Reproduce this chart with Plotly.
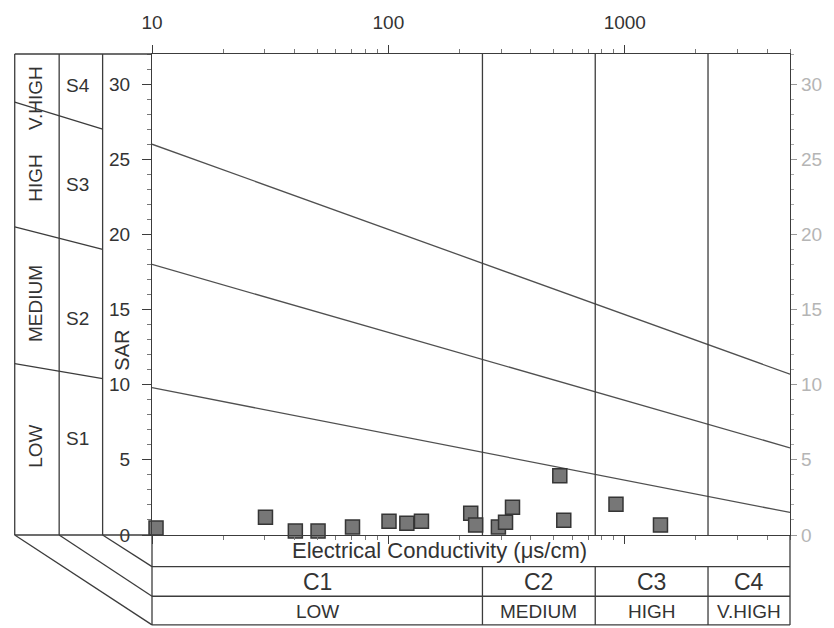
import numpy as np
import plotly.graph_objects as go

# ---------------- data ----------------
ec = [10.4, 30.2, 40.4, 50.4, 70.5, 100.6, 119.7, 138, 223, 234, 292, 313, 335, 531, 552, 918, 1416]
sar = [0.46, 1.18, 0.26, 0.26, 0.53, 0.92, 0.79, 0.92, 1.44, 0.66, 0.53, 0.85, 1.84, 3.94, 0.98, 2.04, 0.66]

ec_limits = [10, 5000]
sar_limits = [0, 32]
line_sar_low_ec = [9.8, 18.0, 26.0]     # S-class boundaries at EC = 10
line_sar_high_ec = [1.5, 5.8, 10.7]     # S-class boundaries at EC = 5000
class_breaks = [250, 750, 2250]
c_edges = [10, 250, 750, 2250, 5000]
c_labels = ["C1", "C2", "C3", "C4"]
c_names = ["LOW", "MEDIUM", "HIGH", "V.HIGH"]
s_labels = ["S1", "S2", "S3", "S4"]
s_names = ["LOW", "MEDIUM", "HIGH", "V.HIGH"]
panel_inner_sar = [10.4, 19.0, 27.0]
panel_outer_sar = [11.4, 20.5, 28.8]
top_ticks = [10, 100, 1000]
top_ticktext = ["10", "100", "1000"]
sar_ticks = [0, 5, 10, 15, 20, 25, 30]

# label positions (SAR units)
s_label_pos = [6.4, 14.4, 23.3, 29.9]
s_name_pos = [5.9, 15.4, 23.8, 29.1]

# ---------------- geometry helpers ----------------
W, H = 834, 628
L, R, T, B = 152, 36, 48, 93
PW, PH = W - L - R, H - T - B


def px(xp):
    return (xp - L) / PW


def py(yp):
    return (H - B - yp) / PH


LINE = "#3c3c3c"
TXT = "#333333"
FONT = "Arial"

fig = go.Figure()

for a, b in zip(line_sar_low_ec, line_sar_high_ec):
    fig.add_trace(go.Scatter(x=ec_limits, y=[a, b], mode="lines",
                             line=dict(color="#505050", width=1.3),
                             hoverinfo="skip", showlegend=False))

for v in class_breaks:
    fig.add_trace(go.Scatter(x=[v, v], y=sar_limits, mode="lines",
                             line=dict(color=LINE, width=1.3),
                             hoverinfo="skip", showlegend=False))

fig.add_trace(go.Scatter(x=ec, y=sar, mode="markers", cliponaxis=False,
                         marker=dict(symbol="square", size=14, color="#777777",
                                     line=dict(color="#353535", width=1.5)),
                         showlegend=False))

# dummy for right axis
fig.add_trace(go.Scatter(x=[ec_limits[0]], y=[sar_limits[0]], yaxis="y2", mode="markers",
                         marker=dict(opacity=0), hoverinfo="skip", showlegend=False))

shapes = []


def seg(x0, y0, x1, y1, xref="paper", yref="paper", color=LINE, w=1.3):
    shapes.append(dict(type="line", x0=x0, y0=y0, x1=x1, y1=y1, xref=xref, yref=yref,
                       line=dict(color=color, width=w), layer="above"))


# left panel
for xp in (13, 58, 102):
    seg(px(xp), 0, px(xp), 1)
seg(px(13), 1, 0, 1)
seg(px(13), 0, 0, 0)
for o, i in zip(panel_outer_sar, panel_inner_sar):
    seg(px(13), o, px(102), i, yref="y")
# perspective to table
seg(px(13), 0, 0, py(626))
seg(px(58), 0, 0, py(597))
seg(px(102), 0, 0, py(567))
# table
for yp in (567, 597, 626):
    seg(0, py(yp), 1, py(yp))
seg(0, 0, 0, py(626))
seg(1, 0, 1, py(626))
for v in class_breaks:
    seg(v, py(567), v, py(626), xref="x")

annotations = []


def ann(text, x, y, size, xref="paper", yref="paper", angle=0, color=TXT):
    annotations.append(dict(text=text, x=x, y=y, xref=xref, yref=yref, showarrow=False,
                            textangle=angle, font=dict(family=FONT, size=size, color=color),
                            xanchor="center", yanchor="middle"))


ann("SAR", px(122), py(348), 20, angle=-90)
ann("Electrical Conductivity (\u03bcs/cm)", px(443), py(551), 22)
for k in range(4):
    xc = np.log10(np.sqrt(c_edges[k] * c_edges[k + 1]))
    ann(c_labels[k], xc, py(583), 23, xref="x")
    ann(c_names[k], xc, py(612), 19, xref="x")
for k in range(4):
    ann(s_labels[k], px(77), s_label_pos[k], 19, yref="y")
    ann(s_names[k], px(34), s_name_pos[k], 19, yref="y", angle=-90)

minor_x = [m * 10 ** d for d in (1, 2, 3) for m in range(2, 10) if m * 10 ** d <= 5000]

fig.update_layout(
    width=W, height=H, margin=dict(l=L, r=R, t=T, b=B, pad=0),
    paper_bgcolor="white", plot_bgcolor="white",
    font=dict(family=FONT, color=TXT),
    shapes=shapes, annotations=annotations,
    xaxis=dict(type="log", range=[np.log10(ec_limits[0]), np.log10(ec_limits[1])],
               side="top", showgrid=False, zeroline=False,
               showline=True, linecolor=LINE, linewidth=1.3, mirror="ticks",
               ticks="outside", ticklen=8, tickcolor=LINE, tickwidth=1,
               tickvals=top_ticks, ticktext=top_ticktext,
               tickfont=dict(size=19, color=TXT, family=FONT), ticklabelstandoff=8,
               minor=dict(ticks="outside", ticklen=4, tickcolor="#777", tickvals=minor_x)),
    yaxis=dict(range=sar_limits, showgrid=False, zeroline=False,
               showline=True, linecolor=LINE, linewidth=1.3,
               ticks="outside", ticklen=9, tickcolor=LINE,
               tickvals=sar_ticks, tickfont=dict(size=19, color=TXT, family=FONT),
               ticklabelstandoff=8,
               minor=dict(ticks="outside", ticklen=4, tickcolor="#777", dtick=1)),
    yaxis2=dict(range=sar_limits, overlaying="y", side="right", showgrid=False,
                zeroline=False, showline=True, linecolor=LINE, linewidth=1.3,
                ticks="outside", ticklen=6, tickcolor="#999",
                tickvals=sar_ticks, tickfont=dict(size=19, color="#b5b5b5", family=FONT),
                minor=dict(ticks="outside", ticklen=3, tickcolor="#aaa", dtick=1)),
)

fig.write_html("out.html")
